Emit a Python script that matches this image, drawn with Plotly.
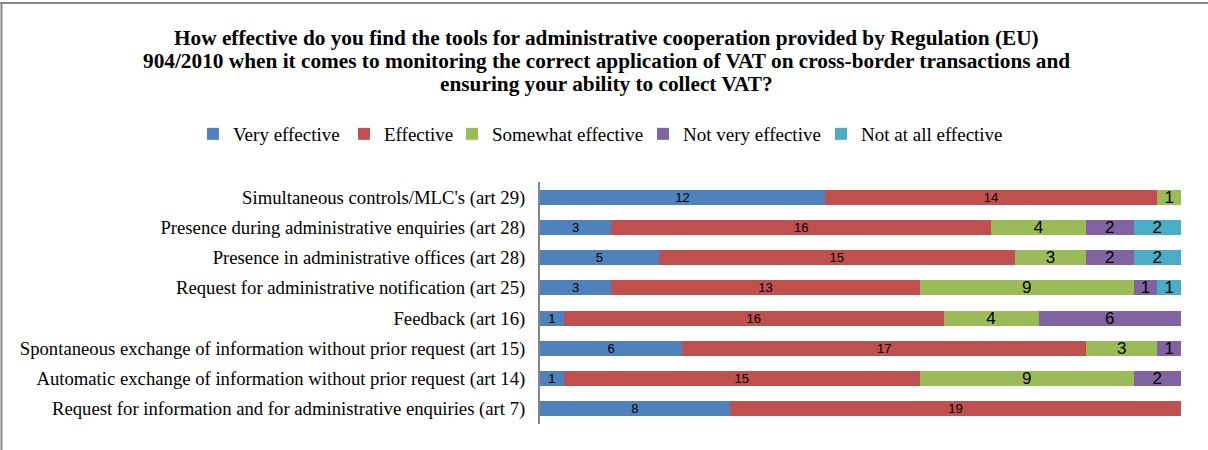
import plotly.graph_objects as go

categories = [
    "Simultaneous controls/MLC's (art 29)",
    "Presence during administrative enquiries (art 28)",
    "Presence in administrative offices (art 28)",
    "Request for administrative notification (art 25)",
    "Feedback (art 16)",
    "Spontaneous exchange of information without prior request (art 15)",
    "Automatic exchange of information without prior request (art 14)",
    "Request for information and for administrative enquiries (art 7)",
]
very_effective = [12, 3, 5, 3, 1, 6, 1, 8]
effective = [14, 16, 15, 13, 16, 17, 15, 19]
somewhat_effective = [1, 4, 3, 9, 4, 3, 9, 0]
not_very_effective = [0, 2, 2, 1, 6, 1, 2, 0]
not_at_all_effective = [0, 2, 2, 1, 0, 0, 0, 0]

title_lines = [
    "How effective do you find the tools for administrative cooperation provided by Regulation (EU)",
    "904/2010 when it comes to monitoring the correct application of VAT on cross-border transactions and",
    "ensuring your ability to collect VAT?",
]

series = [
    ("Very effective", very_effective, "#4F81BD", 13),
    ("Effective", effective, "#C0504D", 13),
    ("Somewhat effective", somewhat_effective, "#9BBB59", 17),
    ("Not very effective", not_very_effective, "#8064A2", 17),
    ("Not at all effective", not_at_all_effective, "#4BACC6", 17),
]
# legend symbol centre x positions (px)
legend_marker_x = [218, 369, 477, 668, 846]

SERIF = "Liberation Serif, Times New Roman, serif"
W, H = 1208, 450
L, R, T, B = 540, 27, 182, 26
PW, PH = W - L - R, H - T - B
MARKER_OFFSET = 25  # legend left edge -> symbol centre

fig = go.Figure()
legends = {}
for i, (name, vals, color, fs) in enumerate(series):
    lname = "legend" if i == 0 else f"legend{i + 1}"
    fig.add_trace(go.Bar(
        y=categories, x=vals, name=name, orientation="h",
        marker=dict(color=color, line=dict(width=0)),
        text=[str(v) if v else "" for v in vals],
        textposition="inside", insidetextanchor="middle",
        textangle=0, constraintext="none",
        textfont=dict(family="Liberation Sans, Arial, sans-serif", size=fs, color="#000000"),
        hoverinfo="skip", legend=lname,
    ))
    legends[lname] = dict(
        orientation="h", xref="container", yref="container",
        x=(legend_marker_x[i] - MARKER_OFFSET) / W, xanchor="left",
        y=1 - 134 / H, yanchor="middle",
        font=dict(size=19, family=SERIF, color="#000000"),
        itemwidth=30, bgcolor="rgba(0,0,0,0)", borderwidth=0,
    )

annotations = []
for i, line in enumerate(title_lines):
    yc = 38 + 23 * i
    annotations.append(dict(
        xref="paper", yref="paper", x=(606 - L) / PW, y=1 + (T - yc) / PH,
        xanchor="center", yanchor="middle", showarrow=False,
        text="<b>" + line + "</b>",
        font=dict(size=21.3, family=SERIF, color="#000000"),
    ))

fig.update_layout(
    width=W, height=H,
    barmode="stack", bargap=0.5,
    margin=dict(l=L, r=R, t=T, b=B),
    paper_bgcolor="white", plot_bgcolor="white",
    font=dict(family=SERIF, color="#000000"),
    showlegend=True,
    xaxis=dict(range=[0, 27], showgrid=False, showticklabels=False, zeroline=False,
               showline=False, fixedrange=True),
    yaxis=dict(autorange="reversed", showgrid=False, showline=True, linecolor="#868686",
               linewidth=2, ticks="", ticklabelstandoff=9,
               tickfont=dict(size=18.7, family=SERIF)),
    annotations=annotations,
    shapes=[
        dict(type="line", xref="paper", yref="paper",
             x0=-L / PW, x1=1 + R / PW,
             y0=1 + (T - 3) / PH, y1=1 + (T - 3) / PH,
             line=dict(color="#888888", width=2)),
        dict(type="line", xref="paper", yref="paper",
             x0=-(L - 1.5) / PW, x1=-(L - 1.5) / PW,
             y0=1 + (T - 3) / PH, y1=-B / PH,
             line=dict(color="#888888", width=2)),
    ],
    **legends,
)

fig.write_html("out.html", config={"displayModeBar": False},
               post_script="document.body.style.margin='0';")
